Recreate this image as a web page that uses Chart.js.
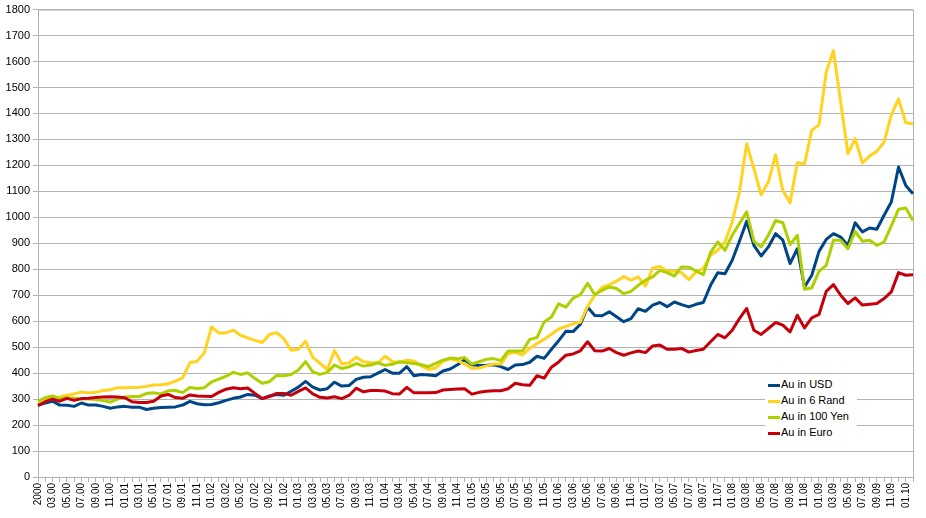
<!DOCTYPE html>
<html>
<head>
<meta charset="utf-8">
<script src="https://cdn.jsdelivr.net/npm/chart.js@4.4.0/dist/chart.umd.min.js"></script>
<style>
  body { margin: 0; background: #fff; }
  #wrap { position: relative; width: 926px; height: 518px; }
  #legend {
    position: absolute; left: 765px; top: 375px;
    background: #fff; padding: 1px 8px 3px 3px;
    font: 11px "Liberation Sans", Arial, sans-serif; color: #000;
  }
  #legend div { height: 16px; line-height: 16px; white-space: nowrap; }
  #legend span { display: inline-block; width: 12px; height: 3px; vertical-align: middle; margin-right: 1px; }
</style>
</head>
<body>
<div id="wrap">
  <canvas id="goldChart"></canvas>
  <div id="legend"></div>
</div>
<script>
// Monate Jan 2000 .. Feb 2010
const months = [
  "2000", "02.00", "03.00", "04.00", "05.00", "06.00", "07.00", "08.00", "09.00", "10.00", "11.00", "12.00",
  "01.01", "02.01", "03.01", "04.01", "05.01", "06.01", "07.01", "08.01", "09.01", "10.01", "11.01", "12.01",
  "01.02", "02.02", "03.02", "04.02", "05.02", "06.02", "07.02", "08.02", "09.02", "10.02", "11.02", "12.02",
  "01.03", "02.03", "03.03", "04.03", "05.03", "06.03", "07.03", "08.03", "09.03", "10.03", "11.03", "12.03",
  "01.04", "02.04", "03.04", "04.04", "05.04", "06.04", "07.04", "08.04", "09.04", "10.04", "11.04", "12.04",
  "01.05", "02.05", "03.05", "04.05", "05.05", "06.05", "07.05", "08.05", "09.05", "10.05", "11.05", "12.05",
  "01.06", "02.06", "03.06", "04.06", "05.06", "06.06", "07.06", "08.06", "09.06", "10.06", "11.06", "12.06",
  "01.07", "02.07", "03.07", "04.07", "05.07", "06.07", "07.07", "08.07", "09.07", "10.07", "11.07", "12.07",
  "01.08", "02.08", "03.08", "04.08", "05.08", "06.08", "07.08", "08.08", "09.08", "10.08", "11.08", "12.08",
  "01.09", "02.09", "03.09", "04.09", "05.09", "06.09", "07.09", "08.09", "09.09", "10.09", "11.09", "12.09",
  "01.10", "02.10"
];

const auUsd = [
  277, 285, 292, 277, 276, 272, 285, 277, 277, 272, 265, 270,
  272, 269, 269, 260, 265, 268, 269, 270, 277, 291, 282, 278,
  279, 286, 295, 303, 308, 318, 315, 302, 312, 318, 315, 330,
  346, 368, 346, 335, 340, 365, 350, 352, 376, 384, 386, 400,
  414, 400, 400, 425, 390, 395, 393, 390, 408, 416, 432, 451,
  432, 429, 430, 432, 425, 414, 431, 433, 442, 465, 457, 492,
  525, 561, 560, 588, 654, 622, 621, 636, 617, 598, 610, 648,
  638, 662, 672, 656, 674, 664, 655, 665, 672, 738, 787, 783,
  835, 908, 985, 892, 851, 886, 937, 912, 822, 879, 732, 777,
  869, 915, 937, 924, 892, 979, 944, 959, 954, 1008, 1059, 1194,
  1123, 1091
];

const auRand = [
  288, 296, 300, 308, 315, 320, 327, 324, 326, 333, 336, 344,
  344, 345, 346, 349, 354, 355, 359, 369, 382, 440, 446, 478,
  578, 555, 555, 566, 546, 536, 526, 518, 549, 556, 533, 488,
  492, 523, 461, 438, 414, 487, 436, 439, 461, 444, 440, 440,
  465, 445, 440, 450, 447, 428, 414, 420, 445, 455, 448, 435,
  418, 420, 428, 435, 435, 475, 480, 470, 495, 514, 530, 550,
  570, 580, 590, 596, 657, 700, 730, 741, 754, 772, 758, 771,
  735, 805, 811, 792, 793, 787, 760, 790, 803, 854, 873, 905,
  982, 1097, 1283, 1187, 1087, 1136, 1241, 1104, 1056, 1210, 1206, 1335,
  1356, 1559, 1642, 1444, 1245, 1303, 1210, 1236, 1254, 1290, 1395, 1456,
  1364, 1360
];

const auYen = [
  292, 305, 312, 302, 305, 303, 300, 300, 298, 295, 288, 300,
  308, 310, 310, 322, 324, 320, 332, 333, 325, 345, 341, 344,
  366, 377, 388, 403, 395, 401, 379, 361, 367, 391, 390, 395,
  412, 444, 405, 395, 403, 431, 418, 424, 437, 427, 431, 440,
  430, 434, 444, 440, 437, 432, 425, 438, 450, 458, 455, 460,
  435, 444, 453, 456, 448, 485, 485, 485, 530, 537, 597, 616,
  667, 654, 689, 702, 746, 702, 719, 732, 726, 706, 715, 738,
  758, 771, 796, 787, 774, 809, 808, 794, 779, 864, 905, 873,
  931, 976, 1021, 908, 886, 931, 988, 979, 895, 931, 723, 728,
  792, 815, 912, 912, 879, 946, 908, 912, 892, 905, 967, 1031,
  1036, 988
];

const auEuro = [
  275, 290, 300, 292, 303, 295, 302, 303, 306, 308, 309, 308,
  305, 290, 287, 287, 292, 312, 318, 306, 303, 316, 312, 311,
  310, 326, 338, 344, 340, 343, 322, 302, 310, 322, 322, 315,
  330, 343, 320, 307, 304, 309, 302, 314, 342, 328, 333, 333,
  331, 321, 320, 345, 324, 324, 324, 325, 335, 337, 339, 340,
  319, 326, 330, 332, 332, 340, 361, 355, 353, 390, 381, 423,
  443, 469, 474, 486, 521, 486, 485, 495, 479, 469, 478, 485,
  479, 505, 508, 492, 492, 495, 481, 487, 492, 521, 549, 536,
  565, 610, 649, 565, 549, 572, 595, 585, 559, 623, 574, 613,
  626, 715, 741, 700, 668, 690, 662, 665, 668, 687, 713, 787,
  777, 779
];

const FONT = '"Liberation Sans", Arial, sans-serif';
const GRID = '#b3b3b3';

// Rahmen um die Zeichenfläche
const frame = {
  id: 'frame',
  beforeDatasetsDraw(chart) {
    const a = chart.chartArea, ctx = chart.ctx;
    ctx.save();
    ctx.strokeStyle = GRID;
    ctx.lineWidth = 1;
    ctx.strokeRect(a.left + 0.5, a.top + 0.5, a.right - a.left, a.bottom - a.top);
    ctx.restore();
  }
};

const chart = new Chart(document.getElementById('goldChart'), {
  type: 'line',
  data: {
    labels: months,
    datasets: [
      { label: 'Au in USD', data: auUsd, borderColor: '#004586', backgroundColor: '#004586', order: 4 },
      { label: 'Au in 6 Rand', data: auRand, borderColor: '#ffd320', backgroundColor: '#ffd320', order: 3 },
      { label: 'Au in 100 Yen', data: auYen, borderColor: '#aecf00', backgroundColor: '#aecf00', order: 2 },
      { label: 'Au in Euro', data: auEuro, borderColor: '#c5000b', backgroundColor: '#c5000b', order: 1 }
    ]
  },
  options: {
    responsive: true,
    maintainAspectRatio: false,
    animation: false,
    layout: { padding: { top: 6, right: 11, left: 0, bottom: 0 } },
    elements: {
      point: { radius: 0 },
      line: { borderWidth: 3, tension: 0, borderJoinStyle: 'round' }
    },
    plugins: { legend: { display: false }, tooltip: { enabled: false } },
    scales: {
      x: {
        grid: { drawOnChartArea: false, drawTicks: true, tickLength: 5, color: GRID },
        border: { color: GRID },
        ticks: {
          autoSkip: false, minRotation: 90, maxRotation: 90, padding: 1,
          color: '#000', font: { size: 10, family: FONT },
          callback: function(v, i) { return i % 2 === 0 ? this.getLabelForValue(v) : ''; }
        },
        afterFit: function(s) { s.height = 41; }
      },
      y: {
        min: 0, max: 1800,
        grid: { color: GRID, tickLength: 5 },
        border: { color: GRID },
        ticks: {
          stepSize: 100, padding: 3, color: '#000', font: { size: 11, family: FONT },
          callback: function(v) { return String(v); }
        },
        afterFit: function(s) { s.width = 38; }
      }
    }
  },
  plugins: [frame]
});

// Legende als HTML
const leg = document.getElementById('legend');
chart.data.datasets.forEach(function(ds) {
  const row = document.createElement('div');
  const mark = document.createElement('span');
  mark.style.background = ds.borderColor;
  row.appendChild(mark);
  row.appendChild(document.createTextNode(ds.label));
  leg.appendChild(row);
});
</script>
</body>
</html>
